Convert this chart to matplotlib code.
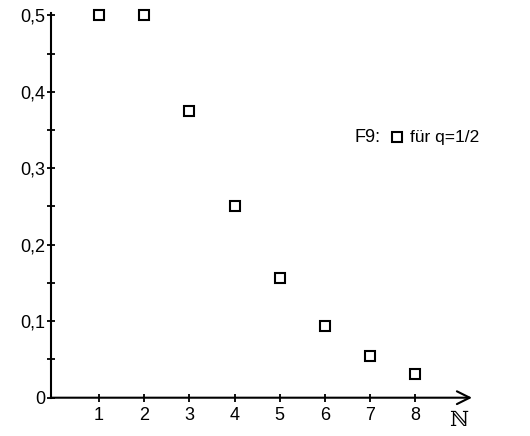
import matplotlib
matplotlib.use("Agg")
import matplotlib.pyplot as plt
from matplotlib.ticker import FixedLocator

plt.rcParams['font.family'] = ['Liberation Sans', 'DejaVu Sans']

# F9 for q=1/2
n = [1, 2, 3, 4, 5, 6, 7, 8]
f9 = [0.5, 0.5, 0.375, 0.25, 0.156, 0.094, 0.055, 0.031]
yticks = [0, 0.1, 0.2, 0.3, 0.4, 0.5]
ylabels = ["0", "0,1", "0,2", "0,3", "0,4", "0,5"]

W, H = 530, 436
fig = plt.figure(figsize=(W/100, H/100), dpi=100)
left, right, bottom, top = 51, 472, 436-397.7, 436-13
xmin, xmax = -0.065, 9.26
ax = fig.add_axes([left/W, bottom/H, (right-left)/W, (top-bottom)/H])
ax.set_xlim(xmin, xmax)
ax.set_ylim(0, 0.503)

for s in ax.spines.values():
    s.set_visible(False)

lw = 1.5
ax.plot([xmin, xmin], [0, 0.503], color='black', lw=lw, clip_on=False)
ax.annotate("", xy=(xmax, 0), xytext=(xmin, 0),
            arrowprops=dict(arrowstyle='->', lw=lw, color='black',
                            mutation_scale=23, shrinkA=0, shrinkB=0),
            annotation_clip=False)

ax.plot(n, f9, 's', ms=6.5, mfc='white', mec='black', mew=1.5, clip_on=False)

ax.set_xticks(n)
ax.set_xticklabels([str(i) for i in n])
ax.set_yticks(yticks)
ax.set_yticklabels(ylabels)
ax.yaxis.set_minor_locator(FixedLocator([0.05, 0.15, 0.25, 0.35, 0.45]))
ax.tick_params(axis='both', which='both', direction='inout', length=6, width=1.3,
               labelsize=13)
ax.tick_params(axis='x', pad=4)
ax.tick_params(axis='y', pad=1)

fig.text(459/W, 1-420/H, "ℕ", fontsize=15, family=['DejaVu Serif'],
         ha='center', va='center')

fig.text(355/W, 1-137/H, "F9:", fontsize=13, ha='left', va='center')
fig.lines.append(plt.Line2D([397/W], [1-137/H], marker='s', ms=6.5, mfc='white',
                            mec='black', mew=1.5, transform=fig.transFigure))
fig.text(410/W, 1-137/H, "für q=1/2", fontsize=12.5, ha='left', va='center')

fig.savefig("out.png", dpi=100)
